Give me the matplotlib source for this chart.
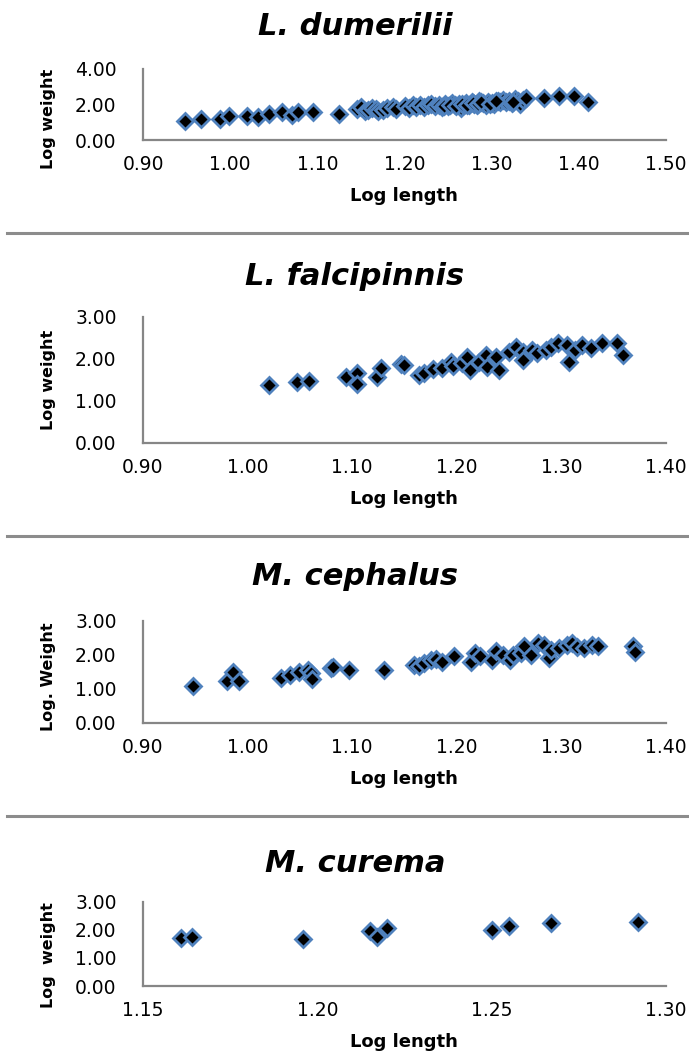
import matplotlib
matplotlib.use('Agg')
import matplotlib.pyplot as plt
from matplotlib.lines import Line2D

# ---- dados ----
dum_x = [0.948, 0.967, 0.988, 0.999, 1.019, 1.032, 1.044, 1.059, 1.071, 1.078, 1.095, 1.125,
         1.145, 1.150, 1.155, 1.158, 1.163, 1.167, 1.170, 1.175, 1.180, 1.187, 1.190,
         1.200, 1.205, 1.210, 1.213, 1.218, 1.222, 1.227, 1.230, 1.235, 1.240, 1.243, 1.247,
         1.250, 1.254, 1.258, 1.262, 1.265, 1.268, 1.270, 1.274, 1.277, 1.280, 1.283, 1.286,
         1.290, 1.293, 1.296, 1.300, 1.303, 1.307, 1.310, 1.313, 1.317, 1.320, 1.323, 1.327,
         1.330, 1.333, 1.336, 1.245, 1.252, 1.259, 1.266, 1.272, 1.279, 1.284, 1.288, 1.298,
         1.305, 1.325, 1.339, 1.360, 1.377, 1.394, 1.410]
dum_y = [1.07, 1.18, 1.20, 1.37, 1.35, 1.31, 1.45, 1.59, 1.39, 1.56, 1.56, 1.46,
         1.73, 1.85, 1.65, 1.69, 1.80, 1.75, 1.62, 1.69, 1.80, 1.88, 1.75,
         1.90, 1.78, 1.95, 1.85, 2.00, 1.88, 1.95, 2.05, 1.90, 1.98, 1.85, 2.02,
         1.93, 2.08, 1.97, 2.05, 1.78, 1.95, 2.10, 2.00, 2.15, 2.05, 1.95, 2.18,
         2.08, 2.00, 2.15, 2.10, 2.05, 2.20, 2.12, 2.28, 2.15, 2.22, 2.08, 2.30,
         2.18, 2.05, 2.25, 1.92, 2.00, 1.90, 2.02, 1.98, 2.10, 2.05, 2.12, 2.05,
         2.18, 2.15, 2.38, 2.35, 2.48, 2.48, 2.12]

fal_x = [1.020, 1.047, 1.059, 1.094, 1.105, 1.105, 1.124, 1.128, 1.147, 1.150,
         1.164, 1.169, 1.177, 1.186, 1.194, 1.196, 1.205, 1.210, 1.213, 1.221,
         1.228, 1.229, 1.237, 1.240, 1.250, 1.257, 1.263, 1.263, 1.272, 1.277,
         1.285, 1.290, 1.297, 1.305, 1.307, 1.313, 1.320, 1.328, 1.339, 1.353, 1.359]
fal_y = [1.37, 1.45, 1.46, 1.56, 1.67, 1.39, 1.56, 1.77, 1.87, 1.85,
         1.61, 1.67, 1.75, 1.77, 1.93, 1.83, 1.89, 2.05, 1.73, 1.93,
         2.09, 1.81, 2.03, 1.73, 2.17, 2.29, 2.17, 1.97, 2.21, 2.13,
         2.21, 2.29, 2.37, 2.33, 1.93, 2.21, 2.33, 2.26, 2.38, 2.37, 2.09]

cep_x = [0.948, 0.980, 0.986, 0.992, 1.032, 1.041, 1.049, 1.058, 1.061, 1.062, 1.080, 1.082,
         1.097, 1.130, 1.159, 1.164, 1.169, 1.175, 1.180, 1.186, 1.197, 1.214, 1.217, 1.222,
         1.234, 1.237, 1.244, 1.251, 1.254, 1.261, 1.264, 1.271, 1.278, 1.283, 1.288, 1.290,
         1.298, 1.305, 1.310, 1.315, 1.322, 1.329, 1.335, 1.368, 1.370]
cep_y = [1.09, 1.22, 1.48, 1.22, 1.31, 1.41, 1.48, 1.54, 1.46, 1.29, 1.61, 1.64,
         1.56, 1.54, 1.70, 1.68, 1.77, 1.85, 1.87, 1.80, 1.97, 1.80, 2.05, 1.95,
         1.85, 2.12, 2.00, 1.85, 2.00, 2.06, 2.26, 2.00, 2.34, 2.29, 1.90, 2.14,
         2.19, 2.29, 2.34, 2.24, 2.19, 2.29, 2.26, 2.26, 2.09]

cur_x = [1.161, 1.164, 1.196, 1.215, 1.217, 1.220, 1.250, 1.255, 1.267, 1.292]
cur_y = [1.70, 1.75, 1.67, 1.96, 1.75, 2.05, 1.99, 2.15, 2.23, 2.29]

titulos = ['L. dumerilii', 'L. falcipinnis', 'M. cephalus', 'M. curema']
ylabels = ['Log weight', 'Log weight', 'Log. Weight', 'Log  weight']
xticks = [[0.90, 1.00, 1.10, 1.20, 1.30, 1.40, 1.50],
          [0.90, 1.00, 1.10, 1.20, 1.30, 1.40],
          [0.90, 1.00, 1.10, 1.20, 1.30, 1.40],
          [1.15, 1.20, 1.25, 1.30]]
yticks = [[0, 2, 4], [0, 1, 2, 3], [0, 1, 2, 3], [0, 1, 2, 3]]

# ---- layout em pixels (figura 689 x 1055) ----
W, H = 689, 1055
eixo_esq, eixo_dir = 143, 666
eixos_px = [(69, 140), (316.7, 442.7), (620.7, 722.7), (901.7, 986)]
titulo_base = [35, 285, 585, 872]
ylabel_cy = [119, 380, 677, 955]
separadores = [233, 536, 816]

dados = [(dum_x, dum_y), (fal_x, fal_y), (cep_x, cep_y), (cur_x, cur_y)]

fig = plt.figure(figsize=(W / 100, H / 100), dpi=100)

for i, (xs, ys) in enumerate(dados):
    topo, base = eixos_px[i]
    ax = fig.add_axes([eixo_esq / W, 1 - base / H, (eixo_dir - eixo_esq) / W, (base - topo) / H])
    ax.plot(xs, ys, linestyle='none', marker='D', markersize=8.4,
            markerfacecolor='black', markeredgecolor='#4F81BD', markeredgewidth=2.0,
            clip_on=False)
    ax.set_xlim(xticks[i][0], xticks[i][-1])
    ax.set_ylim(yticks[i][0], yticks[i][-1])
    ax.set_xticks(xticks[i])
    ax.set_yticks(yticks[i])
    ax.set_xticklabels(['%.2f' % v for v in xticks[i]])
    ax.set_yticklabels(['%.2f' % v for v in yticks[i]])
    for s in ['top', 'right']:
        ax.spines[s].set_visible(False)
    for s in ['left', 'bottom']:
        ax.spines[s].set_color('#868686')
        ax.spines[s].set_linewidth(1.6)
    ax.tick_params(axis='both', length=0, labelsize=13.5, colors='black')
    ax.tick_params(axis='x', pad=11)
    ax.tick_params(axis='y', pad=19)

    # titulo e rótulos
    fig.text(355 / W, 1 - titulo_base[i] / H, titulos[i], ha='center', va='baseline',
             fontsize=22, fontweight='bold', fontstyle='italic')
    fig.text(404 / W, 1 - (base + 56) / H, 'Log length', ha='center', va='center',
             fontsize=13, fontweight='bold')
    fig.text(48 / W, 1 - ylabel_cy[i] / H, ylabels[i], ha='center', va='center',
             rotation=90, fontsize=11.5, fontweight='bold')

for y in separadores:
    fig.add_artist(Line2D([7 / W, 1], [1 - y / H, 1 - y / H], color='#8c8c8c', linewidth=2.2))

fig.savefig('out.png', dpi=100)
